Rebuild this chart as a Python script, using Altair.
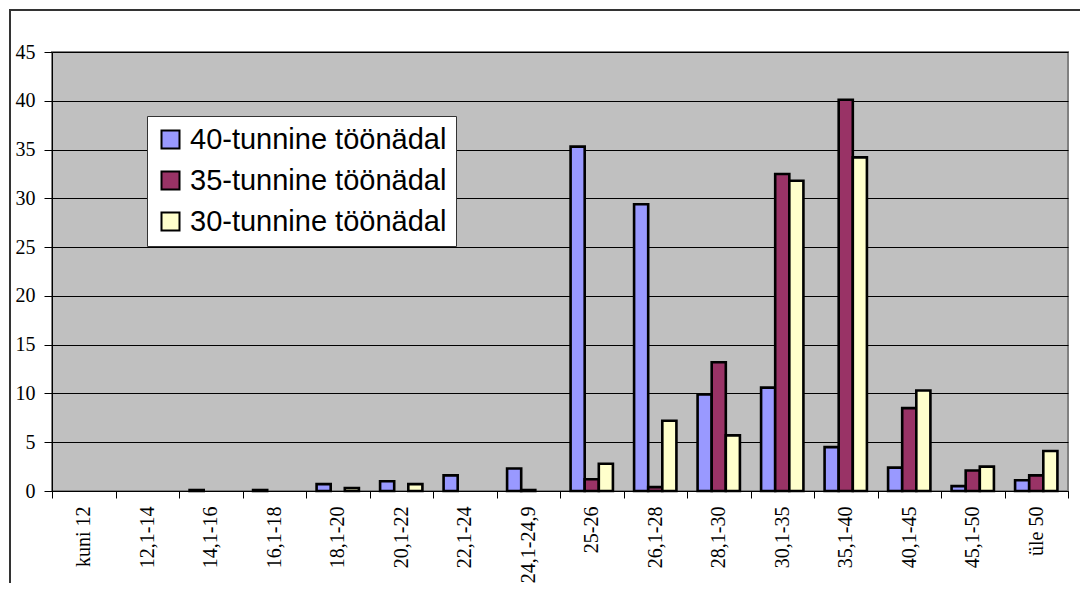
import altair as alt
import pandas as pd

categories = ["kuni 12", "12,1-14", "14,1-16", "16,1-18", "18,1-20", "20,1-22",
              "22,1-24", "24,1-24,9", "25-26", "26,1-28", "28,1-30", "30,1-35",
              "35,1-40", "40,1-45", "45,1-50", "üle 50"]
series = ["40-tunnine töönädal", "35-tunnine töönädal", "30-tunnine töönädal"]
s40 = [0, 0, 0.1, 0.1, 0.7, 1.0, 1.6, 2.3, 35.3, 29.4, 9.9, 10.6, 4.5, 2.4, 0.5, 1.1]
s35 = [0, 0, 0, 0, 0, 0, 0, 0.1, 1.2, 0.4, 13.2, 32.5, 40.1, 8.5, 2.1, 1.6]
s30 = [0, 0, 0, 0, 0.3, 0.7, 0, 0, 2.8, 7.2, 5.7, 31.8, 34.2, 10.3, 2.5, 4.1]
colors = ["#9999FF", "#993366", "#FFFFCC"]
y_ticks = [0, 5, 10, 15, 20, 25, 30, 35, 40, 45]

rows = []
for name, vals in zip(series, [s40, s35, s30]):
    for c, v in zip(categories, vals):
        rows.append({"cat": c, "series": name, "v": v})
df = pd.DataFrame(rows)

bars = alt.Chart(df).transform_filter("datum.v > 0").mark_bar(
    stroke="black", strokeWidth=2.6, strokeJoin="miter"
).encode(
    x=alt.X("cat:N", sort=categories,
            scale=alt.Scale(domain=categories, paddingInner=0, paddingOuter=0),
            axis=alt.Axis(title=None, labelAngle=-90, tickBand="extent",
                          labelFont="Liberation Serif", labelFontSize=20,
                          labelColor="black", tickColor="black", tickSize=7,
                          labelPadding=8, domainColor="black", grid=False,
                          labelLimit=0)),
    xOffset=alt.XOffset("series:N", sort=series,
                        scale=alt.Scale(domain=series, paddingInner=0, paddingOuter=0.75)),
    y=alt.Y("v:Q", scale=alt.Scale(domain=[0, 45], nice=False),
            axis=alt.Axis(title=None, values=y_ticks, labelFont="Liberation Serif",
                          labelFontSize=20, labelColor="black", tickColor="black",
                          tickSize=8, labelPadding=9, domainColor="black",
                          grid=True, gridColor="black", gridOpacity=1, gridWidth=1)),
    color=alt.Color("series:N", sort=series,
                    scale=alt.Scale(domain=series, range=colors),
                    legend=alt.Legend(title=None, orient="none", legendX=95, legendY=64,
                                      fillColor="white", strokeColor="#333333",
                                      padding=9, symbolType="square", symbolSize=324,
                                      symbolStrokeColor="black", symbolStrokeWidth=2,
                                      symbolOpacity=1, labelLimit=0,
                                      labelFont="Liberation Sans", labelFontSize=29,
                                      labelColor="black", rowPadding=11, labelOffset=5)),
)

frame = alt.Chart(pd.DataFrame({"a": [0]})).mark_rect(
    fill="transparent", stroke="#333333", strokeWidth=2
).encode(x=alt.value(-42), x2=alt.value(1060), y=alt.value(-42), y2=alt.value(580))

chart = alt.layer(frame, bars).properties(
    width=1016, height=439,
    autosize=alt.AutoSizeParams(type="none"),
    padding={"left": 44, "top": 44, "right": 12, "bottom": 92},
    background="white",
).configure_view(fill="#C0C0C0", stroke="#808080", strokeWidth=2)

chart.save("out.html", embed_options={"renderer": "svg", "actions": False})
